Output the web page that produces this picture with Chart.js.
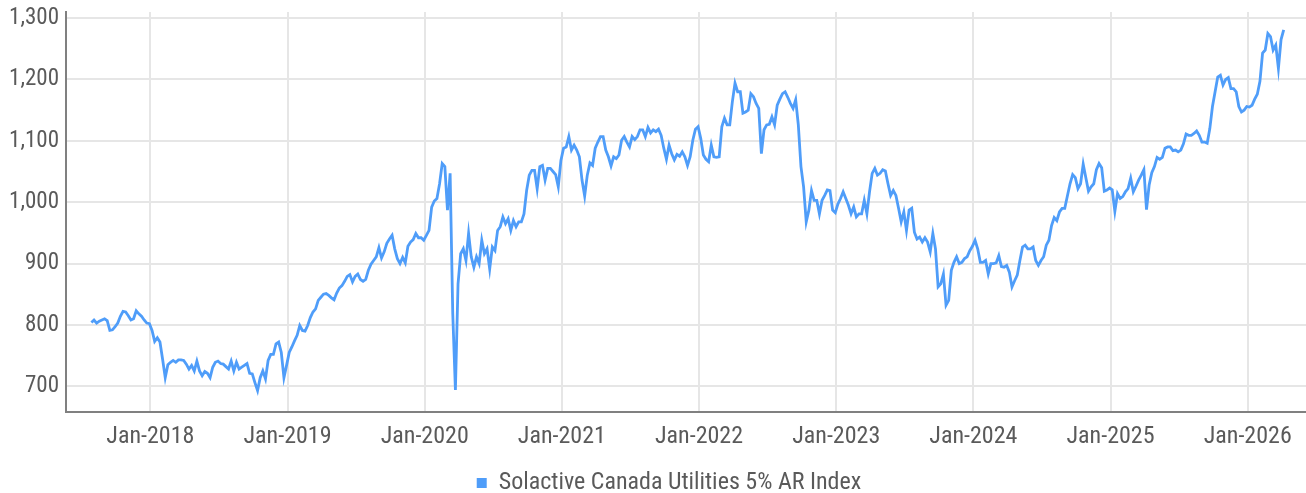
<!DOCTYPE html>
<html><head><meta charset="utf-8">
<script src="https://cdn.jsdelivr.net/npm/chart.js@4.4.1/dist/chart.umd.min.js"></script>
<style>html,body{margin:0;padding:0;background:#fff;} canvas{display:block;}</style>
</head><body>
<canvas id="c" width="1306" height="493"></canvas>
<script>
const seriesName = 'Solactive Canada Utilities 5% AR Index';
// weekly observations, first one at this decimal year
const startYear = 2017.57;
const weeksPerYear = 52;

const v2017 = [804,808,803,806,808,810,807,791,792,797,803,814,822,821,815,808,810,823,818,814,808,803,802];
const v2018 = [791,773,779,772,744,714,735,739,742,739,743,743,742,736,728,734,725,741,725,717,724,721,714,731,739,741,737,736,732,728,741,725,739,728,731,734,737,721,720,706,693,714,725,712,742,752,752,769,772,755,714,734];
const v2019 = [755,764,774,783,799,791,790,799,812,821,826,840,845,850,851,848,844,841,852,860,864,871,879,882,870,879,883,874,871,874,889,899,905,911,926,909,919,933,940,946,924,908,900,910,901,928,935,939,949,942,942,938];
const v2020 = [946,954,992,1002,1006,1030,1063,1058,987,1047,818,694,867,916,924,905,949,911,894,911,900,938,916,924,891,927,921,954,960,976,965,973,954,970,960,968,968,981,1019,1044,1052,1052,1022,1058,1060,1036,1055,1055,1050,1045,1025,1068];
const v2021 = [1088,1090,1107,1085,1093,1085,1074,1036,1010,1044,1064,1060,1088,1098,1107,1107,1085,1074,1059,1074,1071,1077,1101,1107,1098,1090,1107,1102,1107,1118,1118,1107,1122,1113,1118,1115,1119,1109,1088,1070,1093,1079,1069,1078,1075,1082,1074,1060,1074,1101,1119,1123];
const v2022 = [1104,1077,1070,1066,1093,1074,1073,1074,1123,1137,1126,1126,1164,1194,1180,1180,1145,1147,1150,1177,1172,1161,1153,1079,1118,1126,1127,1139,1126,1158,1168,1177,1180,1171,1161,1153,1167,1126,1058,1025,968,987,1019,1003,1003,981,1003,1011,1020,1019,987,983];
const v2023 = [997,1006,1017,1006,995,981,992,976,981,981,1003,981,1017,1047,1055,1044,1047,1053,1051,1030,1011,1019,1011,990,968,984,954,987,990,951,940,943,935,942,935,919,949,924,862,867,883,832,840,889,902,911,900,902,908,911,921,928];
const v2024 = [938,924,902,902,905,883,900,900,901,913,895,894,897,886,862,872,881,905,927,930,924,924,927,905,897,905,911,930,938,962,975,970,984,990,990,1010,1030,1045,1040,1022,1030,1062,1040,1018,1025,1030,1053,1063,1056,1018,1020,1023];
const v2025 = [1020,985,1014,1006,1009,1017,1022,1039,1017,1026,1036,1044,1053,988,1028,1048,1058,1073,1070,1073,1088,1090,1090,1084,1085,1082,1085,1095,1111,1109,1109,1112,1116,1109,1098,1098,1096,1120,1156,1180,1204,1207,1191,1200,1203,1185,1185,1180,1156,1147,1150,1156];
const v2026 = [1155,1158,1168,1176,1197,1243,1248,1275,1270,1248,1256,1218,1265,1281];

const xTickYears = [2018,2019,2020,2021,2022,2023,2024,2025,2026];
const yTickValues = [700,800,900,1000,1100,1200,1300];
const xMin = 2017.385, xMax = 2026.425;
const yMin = 658, yMax = 1310;

const allValues = [].concat(v2017,v2018,v2019,v2020,v2021,v2022,v2023,v2024,v2025,v2026);
const points = allValues.map((v,i) => ({x: startYear + i / weeksPerYear, y: v}));

const FONT = "'Liberation Sans Narrow', 'Roboto Condensed', 'DejaVu Sans Condensed', sans-serif";
const TXT = '#5a5a5a';
const BLUE = '#4f9df9';

const shiftLegend = {
  id: 'shiftLegend',
  afterLayout(chart) { if (chart.legend) { chart.legend.left += 32; } }
};

new Chart(document.getElementById('c').getContext('2d'), {
  type: 'line',
  data: { datasets: [{
    label: seriesName, data: points,
    borderColor: BLUE, backgroundColor: BLUE,
    borderWidth: 2.8, pointRadius: 0, tension: 0, fill: false
  }]},
  plugins: [shiftLegend],
  options: {
    responsive: false, animation: false, devicePixelRatio: 1,
    layout: { padding: { top: 12, left: 0, right: 0, bottom: -12 } },
    plugins: {
      tooltip: { enabled: false },
      legend: {
        position: 'bottom',
        labels: {
          font: { family: FONT, size: 24 }, color: TXT,
          boxWidth: 10, boxHeight: 10, padding: 0,
          generateLabels: () => [{ text: seriesName, fillStyle: BLUE, strokeStyle: BLUE, lineWidth: 0, hidden: false, datasetIndex: 0, fontColor: TXT }]
        }
      }
    },
    scales: {
      x: {
        type: 'linear', min: xMin, max: xMax,
        afterBuildTicks: s => { s.ticks = xTickYears.map(v => ({ value: v })); },
        afterFit: s => { s.height = 59; s.paddingLeft = 0; s.paddingRight = 0; },
        ticks: { callback: v => 'Jan-' + v, autoSkip: false, maxRotation: 0, padding: 11, font: { family: FONT, size: 24 }, color: TXT },
        grid: { color: '#e6e6e6', lineWidth: 2, drawTicks: false },
        border: { color: '#808080', width: 2 }
      },
      y: {
        type: 'linear', min: yMin, max: yMax,
        afterBuildTicks: s => { s.ticks = yTickValues.map(v => ({ value: v })); },
        afterFit: s => { s.width = 66; s.paddingTop = 0; s.paddingBottom = 0; },
        ticks: { callback: v => v.toLocaleString('en-US'), padding: 7, font: { family: FONT, size: 23 }, color: TXT },
        grid: { color: '#e6e6e6', lineWidth: 2, drawTicks: false },
        border: { color: '#808080', width: 2 }
      }
    }
  }
});
</script>
</body></html>
